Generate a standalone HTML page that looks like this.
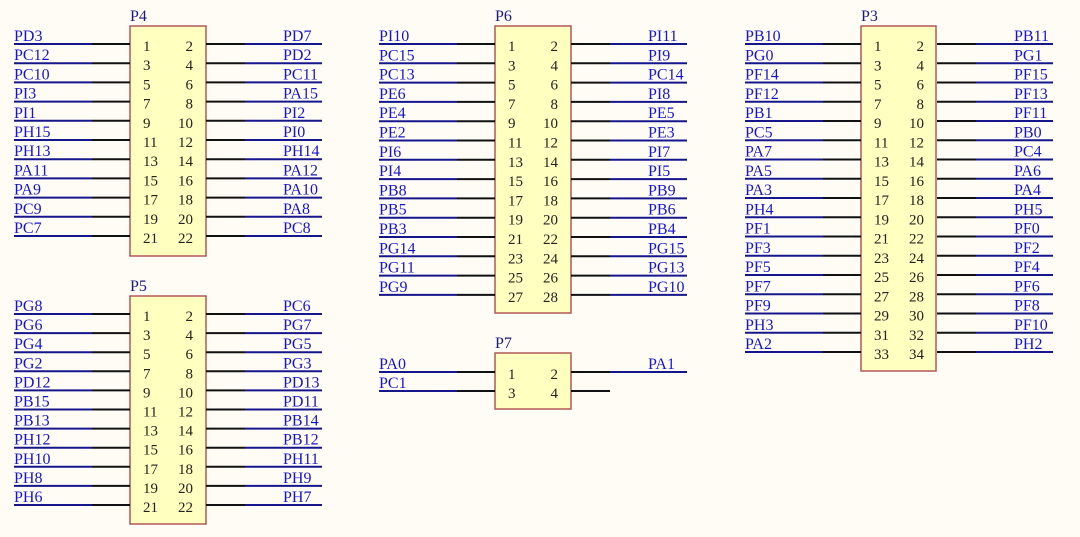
<!DOCTYPE html>
<html><head><meta charset="utf-8"><style>
html,body{margin:0;padding:0;background:#fffcf6;}
svg{display:block;font-family:"Liberation Serif",serif;}
.l{fill:#1515d0;font-size:16px;}
.n{fill:#222;font-size:15px;}
.t{fill:#1a1a80;font-size:16px;}
.b{stroke:#16168c;stroke-width:2;}
.k{stroke:#111;stroke-width:2;}
.box{fill:#ffffc0;stroke:#b05858;stroke-width:1.5;}
</style></head><body>
<svg width="1080" height="537" viewBox="0 0 1080 537">
<defs>
<g id="w">
<line class="b" x1="0" y1="0" x2="78" y2="0"/><line class="k" x1="78" y1="0" x2="116" y2="0"/>
<line class="k" x1="192" y1="0" x2="231" y2="0"/><line class="b" x1="231" y1="0" x2="308" y2="0"/>
</g>
</defs>
<!-- P4 -->
<text class="t" x="130" y="21">P4</text>
<rect class="box" x="130" y="26" width="76" height="230"/>
<g transform="translate(14,44)"><use href="#w"/><text class="l" x="0" y="-3">PD3</text><text class="l" x="269" y="-3">PD7</text><text class="n" x="129" y="7">1</text><text class="n" x="179" y="7" text-anchor="end">2</text></g>
<g transform="translate(14,63.2)"><use href="#w"/><text class="l" x="0" y="-3">PC12</text><text class="l" x="269" y="-3">PD2</text><text class="n" x="129" y="7">3</text><text class="n" x="179" y="7" text-anchor="end">4</text></g>
<g transform="translate(14,82.4)"><use href="#w"/><text class="l" x="0" y="-3">PC10</text><text class="l" x="269" y="-3">PC11</text><text class="n" x="129" y="7">5</text><text class="n" x="179" y="7" text-anchor="end">6</text></g>
<g transform="translate(14,101.6)"><use href="#w"/><text class="l" x="0" y="-3">PI3</text><text class="l" x="269" y="-3">PA15</text><text class="n" x="129" y="7">7</text><text class="n" x="179" y="7" text-anchor="end">8</text></g>
<g transform="translate(14,120.8)"><use href="#w"/><text class="l" x="0" y="-3">PI1</text><text class="l" x="269" y="-3">PI2</text><text class="n" x="129" y="7">9</text><text class="n" x="179" y="7" text-anchor="end">10</text></g>
<g transform="translate(14,140)"><use href="#w"/><text class="l" x="0" y="-3">PH15</text><text class="l" x="269" y="-3">PI0</text><text class="n" x="129" y="7">11</text><text class="n" x="179" y="7" text-anchor="end">12</text></g>
<g transform="translate(14,159.2)"><use href="#w"/><text class="l" x="0" y="-3">PH13</text><text class="l" x="269" y="-3">PH14</text><text class="n" x="129" y="7">13</text><text class="n" x="179" y="7" text-anchor="end">14</text></g>
<g transform="translate(14,178.4)"><use href="#w"/><text class="l" x="0" y="-3">PA11</text><text class="l" x="269" y="-3">PA12</text><text class="n" x="129" y="7">15</text><text class="n" x="179" y="7" text-anchor="end">16</text></g>
<g transform="translate(14,197.6)"><use href="#w"/><text class="l" x="0" y="-3">PA9</text><text class="l" x="269" y="-3">PA10</text><text class="n" x="129" y="7">17</text><text class="n" x="179" y="7" text-anchor="end">18</text></g>
<g transform="translate(14,216.8)"><use href="#w"/><text class="l" x="0" y="-3">PC9</text><text class="l" x="269" y="-3">PA8</text><text class="n" x="129" y="7">19</text><text class="n" x="179" y="7" text-anchor="end">20</text></g>
<g transform="translate(14,236)"><use href="#w"/><text class="l" x="0" y="-3">PC7</text><text class="l" x="269" y="-3">PC8</text><text class="n" x="129" y="7">21</text><text class="n" x="179" y="7" text-anchor="end">22</text></g>
<!-- P5 -->
<text class="t" x="130" y="291">P5</text>
<rect class="box" x="130" y="296" width="76" height="228"/>
<g transform="translate(14,314)"><use href="#w"/><text class="l" x="0" y="-3">PG8</text><text class="l" x="269" y="-3">PC6</text><text class="n" x="129" y="7">1</text><text class="n" x="179" y="7" text-anchor="end">2</text></g>
<g transform="translate(14,333.1)"><use href="#w"/><text class="l" x="0" y="-3">PG6</text><text class="l" x="269" y="-3">PG7</text><text class="n" x="129" y="7">3</text><text class="n" x="179" y="7" text-anchor="end">4</text></g>
<g transform="translate(14,352.2)"><use href="#w"/><text class="l" x="0" y="-3">PG4</text><text class="l" x="269" y="-3">PG5</text><text class="n" x="129" y="7">5</text><text class="n" x="179" y="7" text-anchor="end">6</text></g>
<g transform="translate(14,371.3)"><use href="#w"/><text class="l" x="0" y="-3">PG2</text><text class="l" x="269" y="-3">PG3</text><text class="n" x="129" y="7">7</text><text class="n" x="179" y="7" text-anchor="end">8</text></g>
<g transform="translate(14,390.4)"><use href="#w"/><text class="l" x="0" y="-3">PD12</text><text class="l" x="269" y="-3">PD13</text><text class="n" x="129" y="7">9</text><text class="n" x="179" y="7" text-anchor="end">10</text></g>
<g transform="translate(14,409.5)"><use href="#w"/><text class="l" x="0" y="-3">PB15</text><text class="l" x="269" y="-3">PD11</text><text class="n" x="129" y="7">11</text><text class="n" x="179" y="7" text-anchor="end">12</text></g>
<g transform="translate(14,428.6)"><use href="#w"/><text class="l" x="0" y="-3">PB13</text><text class="l" x="269" y="-3">PB14</text><text class="n" x="129" y="7">13</text><text class="n" x="179" y="7" text-anchor="end">14</text></g>
<g transform="translate(14,447.7)"><use href="#w"/><text class="l" x="0" y="-3">PH12</text><text class="l" x="269" y="-3">PB12</text><text class="n" x="129" y="7">15</text><text class="n" x="179" y="7" text-anchor="end">16</text></g>
<g transform="translate(14,466.8)"><use href="#w"/><text class="l" x="0" y="-3">PH10</text><text class="l" x="269" y="-3">PH11</text><text class="n" x="129" y="7">17</text><text class="n" x="179" y="7" text-anchor="end">18</text></g>
<g transform="translate(14,485.9)"><use href="#w"/><text class="l" x="0" y="-3">PH8</text><text class="l" x="269" y="-3">PH9</text><text class="n" x="129" y="7">19</text><text class="n" x="179" y="7" text-anchor="end">20</text></g>
<g transform="translate(14,505)"><use href="#w"/><text class="l" x="0" y="-3">PH6</text><text class="l" x="269" y="-3">PH7</text><text class="n" x="129" y="7">21</text><text class="n" x="179" y="7" text-anchor="end">22</text></g>
<!-- P6 -->
<text class="t" x="495" y="21">P6</text>
<rect class="box" x="495" y="26" width="76" height="287"/>
<g transform="translate(379,44)"><use href="#w"/><text class="l" x="0" y="-3">PI10</text><text class="l" x="269" y="-3">PI11</text><text class="n" x="129" y="7">1</text><text class="n" x="179" y="7" text-anchor="end">2</text></g>
<g transform="translate(379,63.3)"><use href="#w"/><text class="l" x="0" y="-3">PC15</text><text class="l" x="269" y="-3">PI9</text><text class="n" x="129" y="7">3</text><text class="n" x="179" y="7" text-anchor="end">4</text></g>
<g transform="translate(379,82.6)"><use href="#w"/><text class="l" x="0" y="-3">PC13</text><text class="l" x="269" y="-3">PC14</text><text class="n" x="129" y="7">5</text><text class="n" x="179" y="7" text-anchor="end">6</text></g>
<g transform="translate(379,101.9)"><use href="#w"/><text class="l" x="0" y="-3">PE6</text><text class="l" x="269" y="-3">PI8</text><text class="n" x="129" y="7">7</text><text class="n" x="179" y="7" text-anchor="end">8</text></g>
<g transform="translate(379,121.2)"><use href="#w"/><text class="l" x="0" y="-3">PE4</text><text class="l" x="269" y="-3">PE5</text><text class="n" x="129" y="7">9</text><text class="n" x="179" y="7" text-anchor="end">10</text></g>
<g transform="translate(379,140.5)"><use href="#w"/><text class="l" x="0" y="-3">PE2</text><text class="l" x="269" y="-3">PE3</text><text class="n" x="129" y="7">11</text><text class="n" x="179" y="7" text-anchor="end">12</text></g>
<g transform="translate(379,159.8)"><use href="#w"/><text class="l" x="0" y="-3">PI6</text><text class="l" x="269" y="-3">PI7</text><text class="n" x="129" y="7">13</text><text class="n" x="179" y="7" text-anchor="end">14</text></g>
<g transform="translate(379,179.1)"><use href="#w"/><text class="l" x="0" y="-3">PI4</text><text class="l" x="269" y="-3">PI5</text><text class="n" x="129" y="7">15</text><text class="n" x="179" y="7" text-anchor="end">16</text></g>
<g transform="translate(379,198.4)"><use href="#w"/><text class="l" x="0" y="-3">PB8</text><text class="l" x="269" y="-3">PB9</text><text class="n" x="129" y="7">17</text><text class="n" x="179" y="7" text-anchor="end">18</text></g>
<g transform="translate(379,217.7)"><use href="#w"/><text class="l" x="0" y="-3">PB5</text><text class="l" x="269" y="-3">PB6</text><text class="n" x="129" y="7">19</text><text class="n" x="179" y="7" text-anchor="end">20</text></g>
<g transform="translate(379,237)"><use href="#w"/><text class="l" x="0" y="-3">PB3</text><text class="l" x="269" y="-3">PB4</text><text class="n" x="129" y="7">21</text><text class="n" x="179" y="7" text-anchor="end">22</text></g>
<g transform="translate(379,256.3)"><use href="#w"/><text class="l" x="0" y="-3">PG14</text><text class="l" x="269" y="-3">PG15</text><text class="n" x="129" y="7">23</text><text class="n" x="179" y="7" text-anchor="end">24</text></g>
<g transform="translate(379,275.6)"><use href="#w"/><text class="l" x="0" y="-3">PG11</text><text class="l" x="269" y="-3">PG13</text><text class="n" x="129" y="7">25</text><text class="n" x="179" y="7" text-anchor="end">26</text></g>
<g transform="translate(379,294.9)"><use href="#w"/><text class="l" x="0" y="-3">PG9</text><text class="l" x="269" y="-3">PG10</text><text class="n" x="129" y="7">27</text><text class="n" x="179" y="7" text-anchor="end">28</text></g>
<!-- P7 -->
<text class="t" x="495" y="348">P7</text>
<rect class="box" x="495" y="353" width="76" height="56"/>
<g transform="translate(379,372)"><use href="#w"/><text class="l" x="0" y="-3">PA0</text><text class="l" x="269" y="-3">PA1</text><text class="n" x="129" y="7">1</text><text class="n" x="179" y="7" text-anchor="end">2</text></g>
<g transform="translate(379,391)"><line class="b" x1="0" y1="0" x2="78" y2="0"/><line class="k" x1="78" y1="0" x2="116" y2="0"/><line class="k" x1="192" y1="0" x2="231" y2="0"/><text class="l" x="0" y="-3">PC1</text><text class="n" x="129" y="7">3</text><text class="n" x="179" y="7" text-anchor="end">4</text></g>
<!-- P3 -->
<text class="t" x="861" y="21">P3</text>
<rect class="box" x="861" y="26" width="75" height="345"/>
<g transform="translate(745,44)"><use href="#w"/><text class="l" x="0" y="-3">PB10</text><text class="l" x="269" y="-3">PB11</text><text class="n" x="129" y="7">1</text><text class="n" x="179" y="7" text-anchor="end">2</text></g>
<g transform="translate(745,63.25)"><use href="#w"/><text class="l" x="0" y="-3">PG0</text><text class="l" x="269" y="-3">PG1</text><text class="n" x="129" y="7">3</text><text class="n" x="179" y="7" text-anchor="end">4</text></g>
<g transform="translate(745,82.5)"><use href="#w"/><text class="l" x="0" y="-3">PF14</text><text class="l" x="269" y="-3">PF15</text><text class="n" x="129" y="7">5</text><text class="n" x="179" y="7" text-anchor="end">6</text></g>
<g transform="translate(745,101.75)"><use href="#w"/><text class="l" x="0" y="-3">PF12</text><text class="l" x="269" y="-3">PF13</text><text class="n" x="129" y="7">7</text><text class="n" x="179" y="7" text-anchor="end">8</text></g>
<g transform="translate(745,121)"><use href="#w"/><text class="l" x="0" y="-3">PB1</text><text class="l" x="269" y="-3">PF11</text><text class="n" x="129" y="7">9</text><text class="n" x="179" y="7" text-anchor="end">10</text></g>
<g transform="translate(745,140.25)"><use href="#w"/><text class="l" x="0" y="-3">PC5</text><text class="l" x="269" y="-3">PB0</text><text class="n" x="129" y="7">11</text><text class="n" x="179" y="7" text-anchor="end">12</text></g>
<g transform="translate(745,159.5)"><use href="#w"/><text class="l" x="0" y="-3">PA7</text><text class="l" x="269" y="-3">PC4</text><text class="n" x="129" y="7">13</text><text class="n" x="179" y="7" text-anchor="end">14</text></g>
<g transform="translate(745,178.75)"><use href="#w"/><text class="l" x="0" y="-3">PA5</text><text class="l" x="269" y="-3">PA6</text><text class="n" x="129" y="7">15</text><text class="n" x="179" y="7" text-anchor="end">16</text></g>
<g transform="translate(745,198)"><use href="#w"/><text class="l" x="0" y="-3">PA3</text><text class="l" x="269" y="-3">PA4</text><text class="n" x="129" y="7">17</text><text class="n" x="179" y="7" text-anchor="end">18</text></g>
<g transform="translate(745,217.25)"><use href="#w"/><text class="l" x="0" y="-3">PH4</text><text class="l" x="269" y="-3">PH5</text><text class="n" x="129" y="7">19</text><text class="n" x="179" y="7" text-anchor="end">20</text></g>
<g transform="translate(745,236.5)"><use href="#w"/><text class="l" x="0" y="-3">PF1</text><text class="l" x="269" y="-3">PF0</text><text class="n" x="129" y="7">21</text><text class="n" x="179" y="7" text-anchor="end">22</text></g>
<g transform="translate(745,255.75)"><use href="#w"/><text class="l" x="0" y="-3">PF3</text><text class="l" x="269" y="-3">PF2</text><text class="n" x="129" y="7">23</text><text class="n" x="179" y="7" text-anchor="end">24</text></g>
<g transform="translate(745,275)"><use href="#w"/><text class="l" x="0" y="-3">PF5</text><text class="l" x="269" y="-3">PF4</text><text class="n" x="129" y="7">25</text><text class="n" x="179" y="7" text-anchor="end">26</text></g>
<g transform="translate(745,294.25)"><use href="#w"/><text class="l" x="0" y="-3">PF7</text><text class="l" x="269" y="-3">PF6</text><text class="n" x="129" y="7">27</text><text class="n" x="179" y="7" text-anchor="end">28</text></g>
<g transform="translate(745,313.5)"><use href="#w"/><text class="l" x="0" y="-3">PF9</text><text class="l" x="269" y="-3">PF8</text><text class="n" x="129" y="7">29</text><text class="n" x="179" y="7" text-anchor="end">30</text></g>
<g transform="translate(745,332.75)"><use href="#w"/><text class="l" x="0" y="-3">PH3</text><text class="l" x="269" y="-3">PF10</text><text class="n" x="129" y="7">31</text><text class="n" x="179" y="7" text-anchor="end">32</text></g>
<g transform="translate(745,352)"><use href="#w"/><text class="l" x="0" y="-3">PA2</text><text class="l" x="269" y="-3">PH2</text><text class="n" x="129" y="7">33</text><text class="n" x="179" y="7" text-anchor="end">34</text></g>
</svg>
</body></html>
